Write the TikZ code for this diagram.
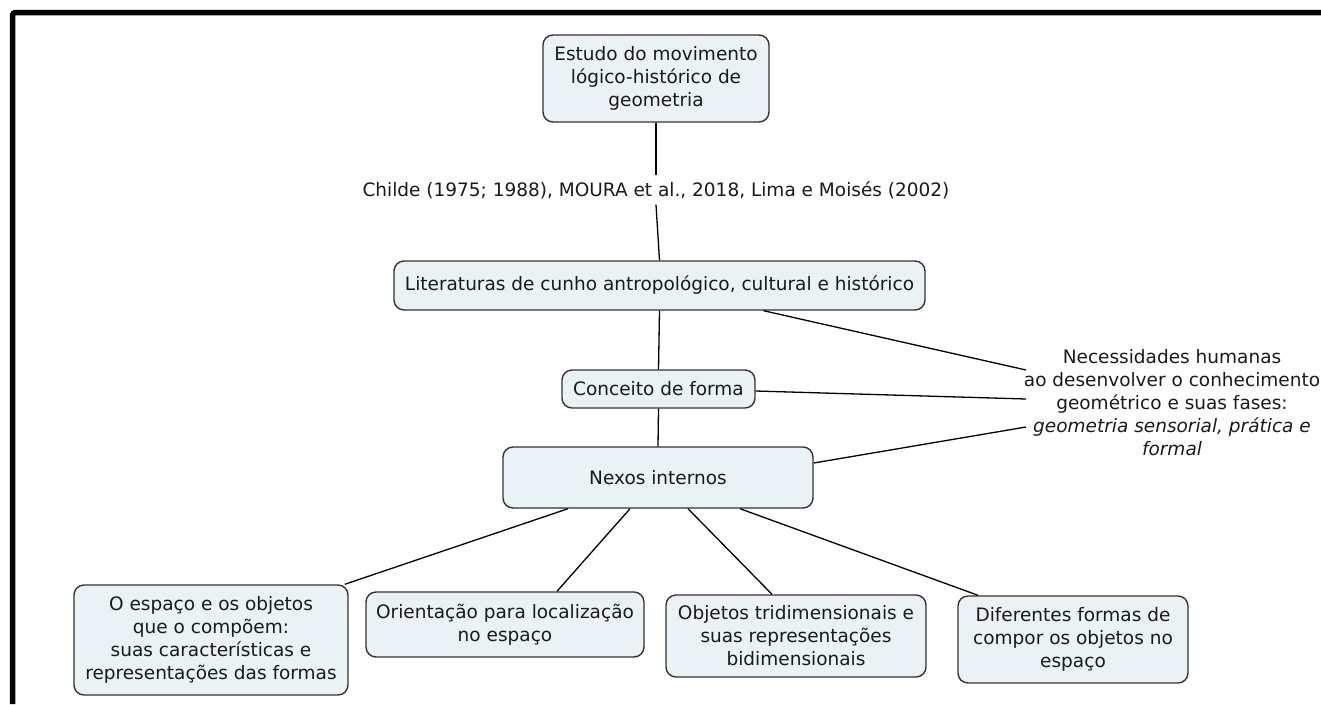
\documentclass[tikz,border=0pt]{standalone}
\usepackage{fontspec}
\setmainfont{DejaVu Sans}[ItalicFont={DejaVu Sans Oblique}]
\usetikzlibrary{calc}
\definecolor{boxfill}{HTML}{EAF2F5}
\definecolor{boxline}{HTML}{333333}
\definecolor{ink}{HTML}{1A1A1A}
\begin{document}
\begin{tikzpicture}[x=1pt,y=-1pt,
  every node/.style={font=\fontsize{18.5}{23}\selectfont, text=ink},
  concept/.style={draw=boxline, line width=1.4pt, fill=boxfill, rounded corners=10pt,
    align=center, inner sep=0pt},
  link/.style={draw=black, line width=1.3pt},
  frameline/.style={line width=5.5pt, line cap=butt, rounded corners=3pt}]
\useasboundingbox (0,0) rectangle (1321,704);

% outer frame (top and left edges)
\draw[frameline] (12.5,704) -- (12.5,12.5) -- (1321,12.5);

% central chain
\node[concept, minimum width=226pt, minimum height=87pt] (top) at (656,78.5)
  {Estudo do movimento\\lógico-histórico de\\geometria};
\node[inner sep=0pt, minimum height=29pt] (ref) at (656,190)
  {Childe (1975; 1988), MOURA et al., 2018, Lima e Moisés (2002)};
\node[concept, minimum width=531pt, minimum height=49pt] (lit) at (659.5,285.5)
  {Literaturas de cunho antropológico, cultural e histórico};
\node[concept, minimum width=193pt, minimum height=38pt] (conc) at (658.5,389)
  {Conceito de forma};
\node[concept, minimum width=310pt, minimum height=61pt] (nexos) at (658,477.5)
  {Nexos internos};

% side note
\node[align=center, inner sep=0pt] (need) at (1172,403)
  {Necessidades humanas\\ao desenvolver o conhecimento\\geométrico e suas fases:\\
   \textit{geometria sensorial, prática e}\\\textit{formal}};

% bottom row
\node[concept, minimum width=274pt, minimum height=110pt] (b1) at (211,640)
  {O espaço e os objetos\\que o compõem:\\suas características e\\representações das formas};
\node[concept, minimum width=278pt, minimum height=65pt] (b2) at (505,624.5)
  {Orientação para localização\\no espaço};
\node[concept, minimum width=260pt, minimum height=82pt] (b3) at (796,636)
  {Objetos tridimensionais e\\suas representações\\bidimensionais};
\node[concept, minimum width=230pt, minimum height=87pt] (b4) at (1073,639.5)
  {Diferentes formas de\\compor os objetos no\\espaço};

% connectors
\draw[link] (top.south) -- (ref.north);
\draw[link] (ref.south) -- (lit.north);
\draw[link] (lit.south) -- (conc.north);
\draw[link] (conc.south) -- (nexos.north);
\draw[link] ([xshift=104pt]lit.south) -- ([xshift=-146pt,yshift=33pt]need.center);
\draw[link] ([yshift=-2pt]conc.east) -- ([xshift=-146pt,yshift=4pt]need.center);
\draw[link] ([yshift=14.5pt]nexos.east) -- ([xshift=-146pt,yshift=-24pt]need.center);
\draw[link] ([xshift=-90pt]nexos.south) -- ([xshift=-4pt]b1.north east);
\draw[link] ([xshift=-28pt]nexos.south) -- ([xshift=52pt]b2.north);
\draw[link] ([xshift=30pt]nexos.south) -- ([xshift=-24pt]b3.north);
\draw[link] ([xshift=82pt]nexos.south) -- ([xshift=-95pt]b4.north);
\end{tikzpicture}
\end{document}
